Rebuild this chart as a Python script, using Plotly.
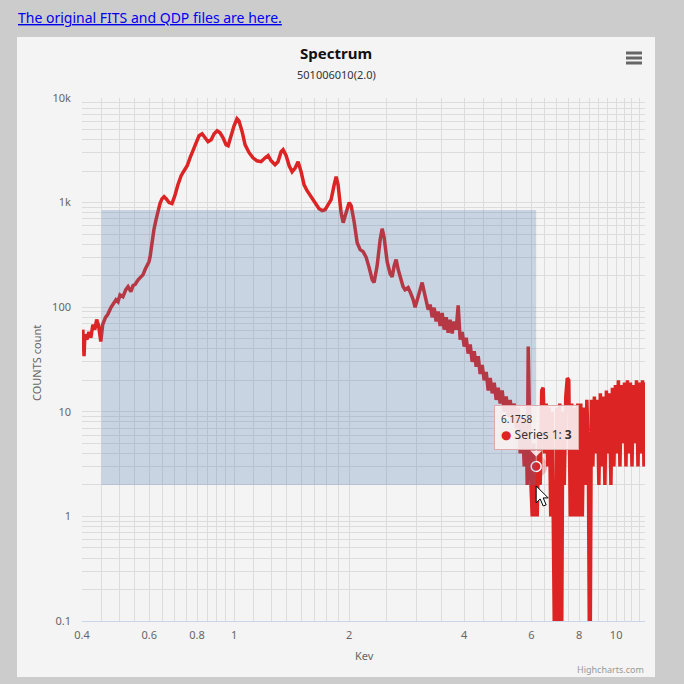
import math
import plotly.graph_objects as go

# ---------------- data ----------------
# soft band 0.4 - 1 keV
energy_soft = [0.402, 0.405, 0.407, 0.412, 0.417, 0.422, 0.427, 0.432, 0.437, 0.442,
               0.448, 0.453, 0.461, 0.467, 0.476, 0.485, 0.491, 0.497, 0.503, 0.512,
               0.521, 0.528, 0.537, 0.544, 0.551, 0.561, 0.571, 0.578, 0.585, 0.592,
               0.599, 0.603, 0.610, 0.617, 0.625, 0.632, 0.640, 0.648, 0.656, 0.664,
               0.676, 0.688, 0.700, 0.713, 0.727, 0.740, 0.754, 0.767, 0.781, 0.796,
               0.810, 0.825, 0.840, 0.855, 0.871, 0.887, 0.903, 0.919, 0.936, 0.953,
               0.965, 0.982]
counts_soft = [61, 34, 55, 49, 58, 51, 68, 61, 76, 67,
               47, 68, 80, 85, 99, 108, 118, 113, 131, 126,
               147, 157, 141, 161, 165, 183, 196, 205, 229, 250,
               272, 304, 414, 551, 687, 837, 977, 1090, 1138, 1090,
               1000, 980, 1164, 1483, 1807, 2018, 2250, 2680, 3200, 3820,
               4360, 4550, 4170, 3820, 3990, 4550, 4860, 4650, 4170, 3570,
               3490, 4360]

# line region 1 - 3.2 keV
energy_lines = [1.000, 1.018, 1.030, 1.050, 1.069, 1.095, 1.121, 1.148, 1.177, 1.206,
                1.228, 1.250, 1.280, 1.303, 1.328, 1.344, 1.369, 1.394, 1.419, 1.445,
                1.471, 1.498, 1.525, 1.553, 1.591, 1.629, 1.669, 1.700, 1.731, 1.763,
                1.795, 1.828, 1.850, 1.872, 1.906, 1.930, 1.965, 2.001, 2.025, 2.062,
                2.100, 2.138, 2.177, 2.217, 2.257, 2.299, 2.326, 2.369, 2.412, 2.441,
                2.471, 2.516, 2.562, 2.593, 2.625, 2.656, 2.689, 2.720, 2.770, 2.803,
                2.855, 2.890, 2.943, 2.978, 3.033, 3.070, 3.107, 3.145, 3.183, 3.222]
counts_lines = [5420, 6330, 6050, 4760, 3570, 3000, 2680, 2510, 2460, 2680,
                2810, 2510, 2300, 2460, 3060, 3200, 2810, 2250, 1970, 2140,
                2460, 1970, 1480, 1300, 1140, 1000, 875, 837, 855, 955,
                1066, 1480, 1770, 1480, 801, 642, 801, 1000, 933, 657,
                414, 355, 340, 300, 239, 183, 172, 250, 442, 563,
                462, 272, 209, 195, 250, 285, 229, 192, 157, 147,
                154, 140, 118, 100, 126, 157, 172, 140, 118, 95]

# noisy band 3.2 - 6 keV
energy_mid = [3.260, 3.300, 3.340, 3.380, 3.421, 3.463, 3.505, 3.548, 3.591, 3.634,
              3.678, 3.723, 3.768, 3.814, 3.860, 3.907, 3.955, 4.003, 4.051, 4.100,
              4.150, 4.200, 4.251, 4.303, 4.355, 4.408, 4.461, 4.515, 4.570, 4.626,
              4.682, 4.739, 4.796, 4.854, 4.913, 4.973, 5.033, 5.094, 5.156, 5.219,
              5.282, 5.346, 5.411, 5.477, 5.543, 5.610, 5.678, 5.747, 5.817, 5.852,
              5.888, 5.924, 5.960]
counts_mid = [106, 80, 99, 73, 91, 66, 88, 61, 80, 57,
              76, 56, 73, 61, 104, 49, 58, 42, 51, 36,
              44, 30, 38, 27, 34, 23, 28, 20, 24, 16,
              21, 15, 19, 13, 17, 12, 16, 10, 14, 9,
              13, 8, 12, 7, 11, 4, 9, 3, 8, 2,
              42, 8, 3]

# hard band 6 - 12 keV (0.01 = empty channel, falls off the log axis)
energy_hard = [6.030, 6.085, 6.140, 6.1758, 6.215, 6.271, 6.328, 6.386, 6.444, 6.503,
               6.562, 6.622, 6.682, 6.743, 6.804, 6.866, 6.929, 6.992, 7.056, 7.120,
               7.185, 7.250, 7.316, 7.383, 7.450, 7.518, 7.586, 7.655, 7.725, 7.795,
               7.866, 7.938, 8.010, 8.083, 8.157, 8.231, 8.306, 8.382, 8.458, 8.535,
               8.613, 8.691, 8.770, 8.850, 8.931, 9.012, 9.094, 9.177, 9.261, 9.345,
               9.430, 9.516, 9.603, 9.690, 9.778, 9.867, 9.957, 10.048, 10.139, 10.232,
               10.325, 10.419, 10.514, 10.609, 10.706, 10.803, 10.902, 11.001, 11.101, 11.202,
               11.304, 11.407, 11.511, 11.616, 11.722, 11.828, 11.936, 12.045]
counts_hard = [1, 5, 1, 3, 1, 6, 2, 16, 17, 4,
               12, 3, 11, 1, 10, 1, 0.01, 11, 0.01, 12,
               0.01, 10, 2, 14, 21, 20, 1, 12, 1, 11,
               1, 12, 1, 12, 1, 11, 2, 13, 4, 0.01,
               13, 3, 14, 4, 13, 2, 15, 3, 14, 2,
               16, 4, 15, 2, 17, 3, 18, 4, 20, 3,
               18, 5, 19, 3, 20, 4, 19, 3, 18, 5,
               20, 3, 19, 4, 20, 3, 19, 18]

hover_energy = 6.1758
hover_counts = 3

selection_x = [0.45, 6.1758]
selection_y = [2, 850]

x_range = [0.4, 11.9]
y_range = [0.1, 10000]

x_grid = [0.4, 0.45, 0.5, 0.55, 0.6, 0.65, 0.7, 0.75, 0.8, 0.85, 0.9, 0.95,
          1, 1.125, 1.25, 1.375, 1.5, 1.625, 1.75, 1.875,
          2, 2.5, 3, 3.5, 4, 4.5, 5, 5.5, 6, 6.5, 7, 7.5, 8, 8.5, 9, 9.5,
          10, 10.5, 11, 11.5]
x_tick_labels = {0.4: "0.4", 0.6: "0.6", 0.8: "0.8", 1: "1", 2: "2",
                 4: "4", 6: "6", 8: "8", 10: "10"}
y_grid = [0.1, 0.2, 0.3, 0.4, 0.5, 0.6, 0.7, 0.8, 0.9,
          1, 2, 3, 4, 5, 6, 7, 8, 9,
          10, 20, 30, 40, 50, 60, 70, 80, 90,
          100, 200, 300, 400, 500, 600, 700, 800, 900,
          1000, 2000, 3000, 4000, 5000, 6000, 7000, 8000, 9000, 10000]
y_tick_labels = {0.1: "0.1", 1: "1", 10: "10", 100: "100", 1000: "1k", 10000: "10k"}

energy = energy_soft + energy_lines + energy_mid + energy_hard
counts = counts_soft + counts_lines + counts_mid + counts_hard

# ---------------- styling / layout ----------------
W = H = 684
L, R, T, B = 82, 39, 98, 63
PW, PH = W - L - R, H - T - B


def px_x(p):
    return (p - L) / PW


def px_y(p):
    return (H - B - p) / PH


RED = "rgb(220,36,36)"
FONT = "Noto Sans, DejaVu Sans, sans-serif"

fig = go.Figure()
fig.add_trace(go.Scatter(x=energy, y=counts, mode="lines",
                         line=dict(color=RED, width=3.5), hoverinfo="skip",
                         showlegend=False))
fig.add_trace(go.Scatter(x=[hover_energy], y=[hover_counts], mode="markers",
                         marker=dict(size=22, color="rgba(220,36,36,0.25)"),
                         hoverinfo="skip", showlegend=False))
fig.add_trace(go.Scatter(x=[hover_energy], y=[hover_counts], mode="markers",
                         marker=dict(size=10, color=RED,
                                     line=dict(color="white", width=1.5)),
                         hoverinfo="skip", showlegend=False))

shapes = [
    # chart container
    dict(type="rect", xref="paper", yref="paper", x0=px_x(17), x1=px_x(655),
         y0=px_y(677), y1=px_y(37), fillcolor="#f4f4f4", line=dict(width=0),
         layer="below"),
    # zoom selection marker
    dict(type="rect", xref="x", yref="y", x0=selection_x[0], x1=selection_x[1],
         y0=selection_y[0], y1=selection_y[1],
         fillcolor="rgba(69,114,167,0.25)", line=dict(width=0), layer="above"),
    # tooltip callout notch
    dict(type="path", xref="x", yref="y", xsizemode="pixel", ysizemode="pixel",
         xanchor=hover_energy, yanchor=hover_counts,
         path="M -6,16 L 6,16 L 0,10 Z",
         fillcolor="rgba(250,242,242,0.9)", line=dict(width=0), layer="above"),
    # mouse cursor
    dict(type="path", xref="x", yref="y", xsizemode="pixel", ysizemode="pixel",
         xanchor=selection_x[1], yanchor=selection_y[0],
         path="M 0,-1 L 0,-18 L 4,-14 L 7,-21 L 10,-20 L 7,-13 L 12,-13 Z",
         fillcolor="white", line=dict(color="black", width=1), layer="above"),
]
for cy in (53, 58, 63):
    shapes.append(dict(type="line", xref="paper", yref="paper",
                       x0=px_x(626), x1=px_x(642), y0=px_y(cy), y1=px_y(cy),
                       line=dict(color="#666666", width=3)))

annotations = [
    dict(text="<u>The original FITS and QDP files are here.</u>", xref="paper",
         yref="paper", x=px_x(16), y=px_y(17), xanchor="left", yanchor="middle",
         showarrow=False, font=dict(family=FONT, size=14, color="#0000ee")),
    dict(text="<b>Spectrum</b>", xref="paper", yref="paper", x=px_x(336),
         y=px_y(53), xanchor="center", yanchor="middle", showarrow=False,
         font=dict(family=FONT, size=15, color="#111111")),
    dict(text="501006010(2.0)", xref="paper", yref="paper", x=px_x(336),
         y=px_y(75), xanchor="center", yanchor="middle", showarrow=False,
         font=dict(family=FONT, size=11, color="#333333")),
    dict(text="COUNTS count", xref="paper", yref="paper", x=px_x(37),
         y=px_y(363), xanchor="center", yanchor="middle", textangle=-90,
         showarrow=False, font=dict(family=FONT, size=11, color="#666666")),
    dict(text="Kev", xref="paper", yref="paper", x=px_x(365), y=px_y(655),
         xanchor="center", yanchor="middle", showarrow=False,
         font=dict(family=FONT, size=11, color="#666666")),
    dict(text="Highcharts.com", xref="paper", yref="paper", x=px_x(646),
         y=px_y(669), xanchor="right", yanchor="middle", showarrow=False,
         font=dict(family=FONT, size=9, color="#999999")),
    dict(text=("<span style='font-size:10px'>%s</span><br>"
               "<span style='color:%s'>●</span> Series 1: <b>%s</b>")
         % (hover_energy, RED, hover_counts),
         xref="x", yref="y", x=math.log10(hover_energy), y=math.log10(hover_counts),
         xanchor="center", yanchor="bottom", yshift=16, align="left",
         showarrow=False, bgcolor="rgba(250,242,242,0.9)",
         bordercolor="rgba(225,170,170,1)", borderwidth=1, borderpad=6,
         font=dict(family=FONT, size=12, color="#333333")),
]

fig.update_layout(
    width=W, height=H,
    margin=dict(l=L, r=R, t=T, b=B, autoexpand=False),
    paper_bgcolor="#cccccc",
    plot_bgcolor="rgba(0,0,0,0)",
    showlegend=False,
    hovermode=False,
    shapes=shapes,
    annotations=annotations,
    xaxis=dict(type="log", range=[math.log10(x_range[0]), math.log10(x_range[1])],
               tickmode="array", tickvals=x_grid,
               ticktext=[x_tick_labels.get(v, "") for v in x_grid],
               showgrid=True, gridcolor="#dcdcdc", gridwidth=1,
               showline=True, linecolor="#ccd6eb", linewidth=1,
               zeroline=False, ticks="", ticklabelstandoff=4,
               tickfont=dict(family=FONT, size=11, color="#666666")),
    yaxis=dict(type="log", range=[math.log10(y_range[0]), math.log10(y_range[1])],
               tickmode="array", tickvals=y_grid,
               ticktext=[y_tick_labels.get(v, "") for v in y_grid],
               showgrid=True, gridcolor="#dcdcdc", gridwidth=1,
               showline=False, zeroline=False, ticks="", ticklabelstandoff=10,
               tickfont=dict(family=FONT, size=11, color="#666666")),
)

fig.write_html(
    "out.html",
    config={"displayModeBar": False},
    post_script="document.body.style.margin='0';document.body.style.background='#cccccc';",
)
